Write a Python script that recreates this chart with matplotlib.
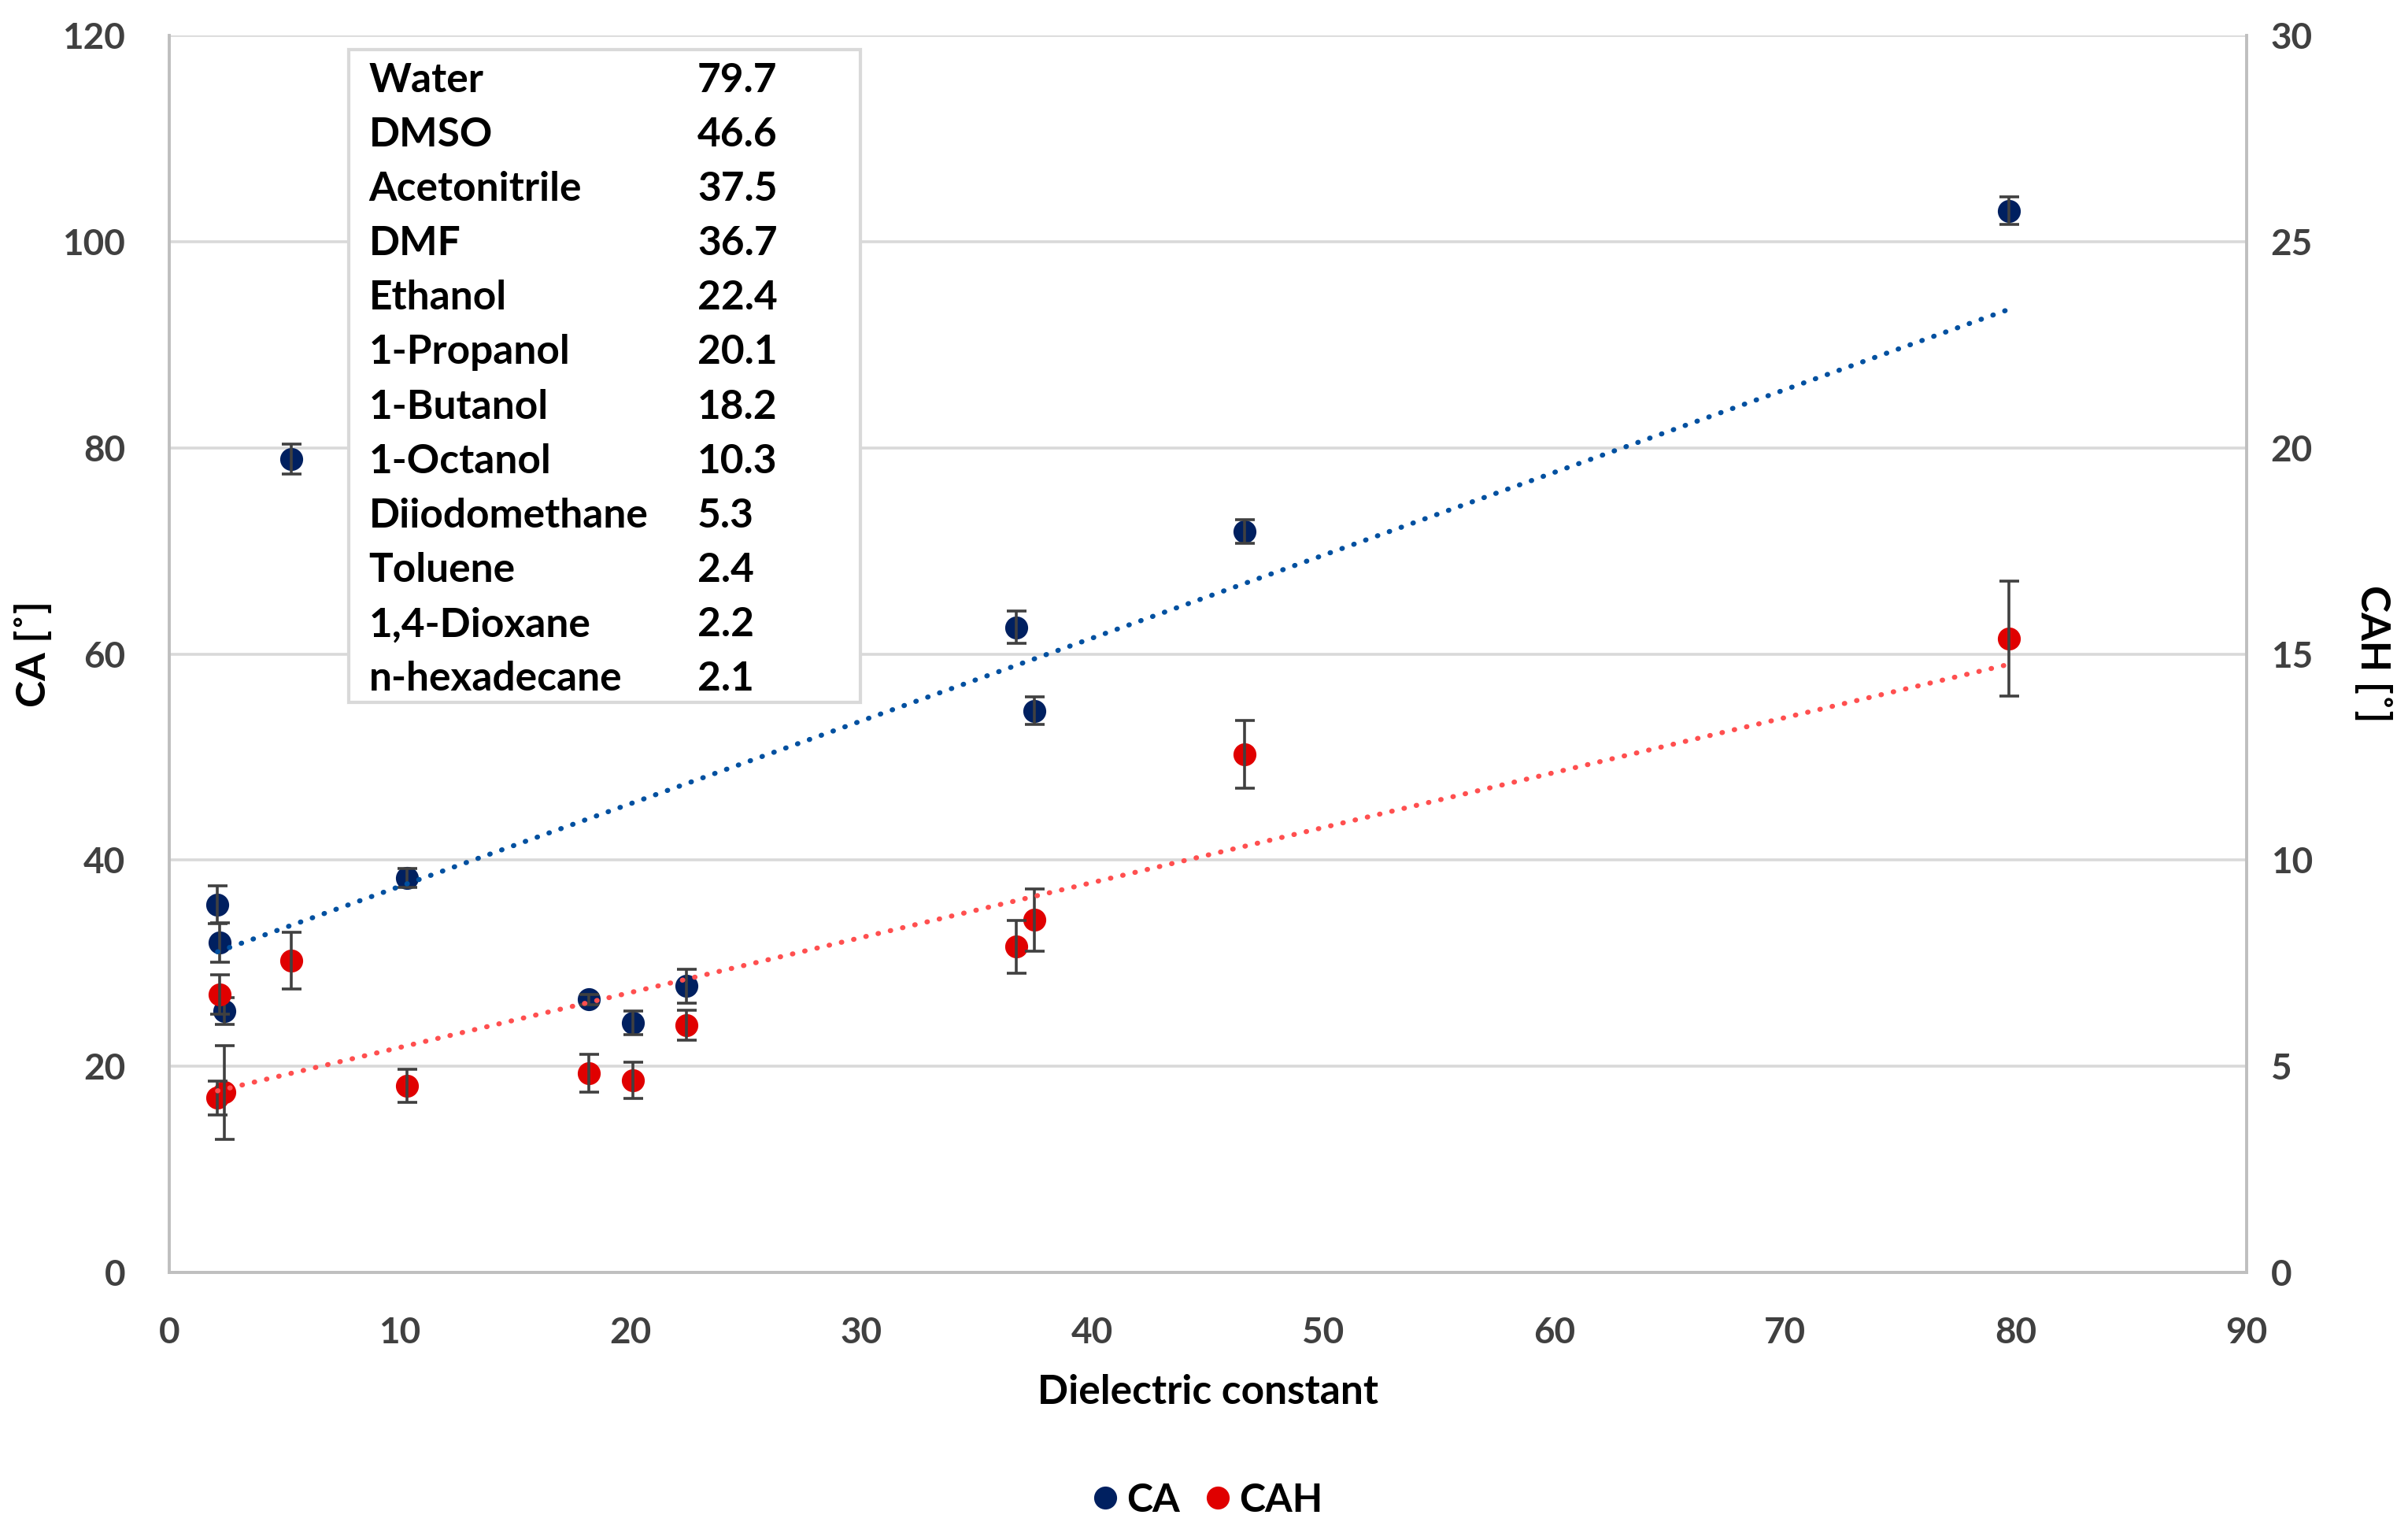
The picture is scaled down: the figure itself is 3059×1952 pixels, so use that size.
import numpy as np
import matplotlib
matplotlib.use("Agg")
import matplotlib.pyplot as plt
from matplotlib.patches import Rectangle

plt.rcParams['font.family'] = ['Lato', 'DejaVu Sans']

# dielectric constant of each solvent
solvents = ["Water", "DMSO", "Acetonitrile", "DMF", "Ethanol", "1-Propanol",
            "1-Butanol", "1-Octanol", "Diiodomethane", "Toluene",
            "1,4-Dioxane", "n-hexadecane"]
dielectric = [79.7, 46.6, 37.5, 36.7, 22.4, 20.1, 18.2, 10.3, 5.3, 2.4, 2.2, 2.1]

# contact angle and hysteresis, same order as above
ca = [103.0, 71.9, 54.5, 62.6, 27.8, 24.2, 26.5, 38.3, 78.9, 25.4, 32.0, 35.7]
ca_err = [1.3, 1.16, 1.32, 1.6, 1.64, 1.15, 0.5, 0.9, 1.46, 1.3, 1.9, 1.85]
cah = [15.37, 12.56, 8.55, 7.9, 6.0, 4.66, 4.84, 4.53, 7.56, 4.37, 6.74, 4.24]
cah_err = [1.39, 0.82, 0.75, 0.64, 0.37, 0.44, 0.46, 0.41, 0.69, 1.13, 0.48, 0.41]

NAVY = "#002060"
RED = "#e00000"
GREY = "#404040"

fig = plt.figure(figsize=(15.295, 9.76), dpi=200)
ax = fig.add_axes([0.0702, 0.172, 0.8628, 0.805])
ax2 = ax.twinx()

# error bars first, then markers, trendline on top (like excel)
ax.errorbar(dielectric, ca, yerr=ca_err, fmt="none", ecolor=GREY,
            elinewidth=1.3, capsize=4.5, capthick=1.3, zorder=3)
ca_pts, = ax.plot(dielectric, ca, "o", color=NAVY, ms=10.5, mew=0,
                  label="CA", zorder=2)
ax2.errorbar(dielectric, cah, yerr=cah_err, fmt="none", ecolor=GREY,
             elinewidth=1.3, capsize=4.5, capthick=1.3, zorder=3)
cah_pts, = ax2.plot(dielectric, cah, "o", color=RED, ms=10.5, mew=0,
                    label="CAH", zorder=2)

# linear trendlines over the data range
xs = np.array([min(dielectric), max(dielectric)])
p_ca = np.polyfit(dielectric, ca, 1)
p_cah = np.polyfit(dielectric, cah, 1)
ax.plot(xs, np.polyval(p_ca, xs), color="#0050a0", lw=2.3,
        ls=(0, (0.1, 2.4)), dash_capstyle="round", zorder=4)
ax2.plot(xs, np.polyval(p_cah, xs), color="#ff4f4f", lw=2.3,
         ls=(0, (0.1, 2.4)), dash_capstyle="round", zorder=4)

ax.set_xlim(0, 90)
ax.set_ylim(0, 120)
ax2.set_ylim(0, 30)
ax.set_xticks(np.arange(0, 91, 10))
ax.set_yticks(np.arange(0, 121, 20))
ax2.set_yticks(np.arange(0, 31, 5))
ax.yaxis.grid(True, color="#d9d9d9", lw=1.3)
ax.set_axisbelow(True)

ax.tick_params(axis="x", length=0, labelsize=16.5, labelcolor=GREY, pad=20)
ax.tick_params(axis="y", length=0, labelsize=16.5, labelcolor=GREY, pad=20)
ax2.tick_params(axis="y", length=0, labelsize=16.5, labelcolor=GREY, pad=11)
for a in (ax, ax2):
    for lab in a.get_xticklabels() + a.get_yticklabels():
        lab.set_fontweight("bold")
    a.spines["top"].set_visible(False)
    for s in ("left", "right", "bottom"):
        a.spines[s].set_color("#bfbfbf")
        a.spines[s].set_linewidth(1.3)

ax.set_xlabel("Dielectric constant", fontsize=18.5, fontweight="bold")
ax.set_ylabel("CA [˚]", fontsize=18.5, fontweight="bold")
ax2.set_ylabel("CAH [˚]", fontsize=18.5, fontweight="bold", rotation=270)
ax.xaxis.set_label_coords(0.5, -0.097)
ax.yaxis.set_label_coords(-0.065, 0.5)
ax2.yaxis.set_label_coords(1.0606, 0.5)
ax2.yaxis.label.set_va("center")
ax.yaxis.label.set_va("center")
ax.xaxis.label.set_va("center")

# solvent table
ax.add_patch(Rectangle((0.0865, 0.4608), 0.2462, 0.5275,
                       transform=ax.transAxes, fill=True, fc="white",
                       ec="#d9d9d9", lw=1.5, zorder=5))
row_y = np.linspace(0.9636, 0.4794, len(solvents))
for name, val, y in zip(solvents, dielectric, row_y):
    ax.text(0.0961, y, name, transform=ax.transAxes, fontsize=18.5,
            fontweight="bold", va="center", ha="left", zorder=6)
    ax.text(0.2543, y, f"{val}", transform=ax.transAxes, fontsize=18.5,
            fontweight="bold", va="center", ha="left", zorder=6)

fig.legend(handles=[ca_pts, cah_pts], loc="center", ncol=2,
           bbox_to_anchor=(0.5, 0.024), frameon=False,
           prop={"weight": "bold", "size": 18}, handletextpad=0.05,
           columnspacing=0.45, handlelength=1.0)

fig.savefig("out.png", dpi=200)
